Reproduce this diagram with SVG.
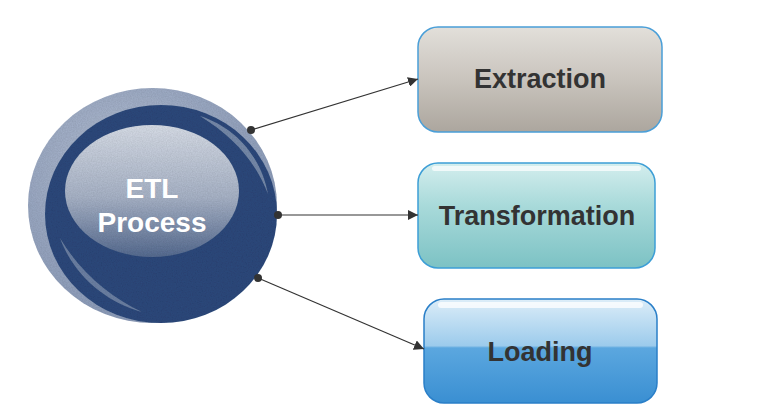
<svg xmlns="http://www.w3.org/2000/svg" width="771" height="411" viewBox="0 0 771 411">
  <style>
    .lbl { font-family: "Liberation Sans", Arial, sans-serif; font-weight: bold; font-size: 27px; fill: #333333; text-anchor: middle; }
    .etl { font-family: "Liberation Sans", Arial, sans-serif; font-weight: bold; font-size: 28px; fill: #ffffff; text-anchor: middle; }
    .conn { stroke: #333333; stroke-width: 1.2; fill: none; }
    .dot { fill: #333333; }
    .box { stroke-width: 1.5; }
  </style>
  <defs>
    <marker id="arrow" viewBox="0 0 10 10" refX="10" refY="5" markerWidth="10" markerHeight="10" markerUnits="userSpaceOnUse" orient="auto">
      <path d="M0,0 L10,5 L0,10 z" fill="#333333"/>
    </marker>
    <filter id="grain" x="-5%" y="-5%" width="110%" height="110%">
      <feTurbulence type="fractalNoise" baseFrequency="0.8" numOctaves="2" seed="3" result="n"/>
      <feColorMatrix in="n" type="matrix" values="0 0 0 0 0  0 0 0 0 0  0 0 0 0 0  0 0 0 0.25 -0.04" result="d"/>
      <feComposite in="d" in2="SourceAlpha" operator="in" result="dm"/>
      <feMerge><feMergeNode in="SourceGraphic"/><feMergeNode in="dm"/></feMerge>
    </filter>
    <linearGradient id="gExt" x1="0" y1="0" x2="0" y2="1">
      <stop offset="0" stop-color="#e2dfda"/>
      <stop offset="0.5" stop-color="#c9c4bd"/>
      <stop offset="1" stop-color="#aca69e"/>
    </linearGradient>
    <linearGradient id="gTr" x1="0" y1="0" x2="0" y2="1">
      <stop offset="0" stop-color="#d4eeee"/>
      <stop offset="0.4" stop-color="#a9dada"/>
      <stop offset="1" stop-color="#7cc2c4"/>
    </linearGradient>
    <linearGradient id="gLd" x1="0" y1="0" x2="0" y2="1">
      <stop offset="0" stop-color="#dcedf8"/>
      <stop offset="0.45" stop-color="#9ccbec"/>
      <stop offset="0.47" stop-color="#5ba7df"/>
      <stop offset="1" stop-color="#3a8fd2"/>
    </linearGradient>
    <radialGradient id="gOuter" cx="0.4" cy="0.35" r="0.7">
      <stop offset="0" stop-color="#b4bfd3"/>
      <stop offset="1" stop-color="#8797b5"/>
    </radialGradient>
    <linearGradient id="gInner" x1="0" y1="0" x2="0" y2="1">
      <stop offset="0" stop-color="#d6dce6"/>
      <stop offset="0.55" stop-color="#a7b2c6"/>
      <stop offset="1" stop-color="#566b90"/>
    </linearGradient>
  </defs>

  <g id="etl-process">
    <g filter="url(#grain)">
      <ellipse cx="152.5" cy="205.5" rx="124.5" ry="117.5" fill="url(#gOuter)"/>
      <ellipse cx="161" cy="214" rx="116" ry="109" fill="#2d4a7b"/>
      <path d="M200,116 C238,128 262,160 268,194 C255,160 232,136 200,116 z" fill="#ffffff" opacity="0.35"/>
      <path d="M60,238 C74,276 106,302 142,312 C110,297 80,272 60,238 z" fill="#ffffff" opacity="0.3"/>
      <ellipse cx="152" cy="191" rx="87" ry="66" fill="url(#gInner)"/>
    </g>
    <text class="etl" x="152" y="198">ETL</text>
    <text class="etl" x="152" y="232">Process</text>
  </g>

  <g id="extraction">
    <rect class="box" x="418" y="27" width="244" height="105" rx="20" ry="20" fill="url(#gExt)" stroke="#4a9fd8"/>
    <text class="lbl" x="540" y="88">Extraction</text>
  </g>

  <g id="transformation">
    <rect class="box" x="418" y="163" width="237" height="105" rx="20" ry="20" fill="url(#gTr)" stroke="#3d9ed6"/>
    <rect x="432" y="166" width="209" height="5" rx="2.5" fill="#ffffff" opacity="0.7"/>
    <text class="lbl" x="537" y="225">Transformation</text>
  </g>

  <g id="loading">
    <rect class="box" x="424" y="299" width="233" height="104" rx="20" ry="20" fill="url(#gLd)" stroke="#2a7fc8"/>
    <rect x="438" y="302" width="205" height="6" rx="3" fill="#ffffff" opacity="0.75"/>
    <text class="lbl" x="540" y="361">Loading</text>
  </g>

  <g id="connectors">
    <line class="conn" x1="251" y1="130" x2="418" y2="79" marker-end="url(#arrow)"/>
    <line class="conn" x1="278" y1="215" x2="418" y2="215" marker-end="url(#arrow)"/>
    <line class="conn" x1="258" y1="278" x2="424" y2="349" marker-end="url(#arrow)"/>
    <circle class="dot" cx="251" cy="130" r="4"/>
    <circle class="dot" cx="278" cy="215" r="4"/>
    <circle class="dot" cx="258" cy="278" r="4"/>
  </g>
</svg>
